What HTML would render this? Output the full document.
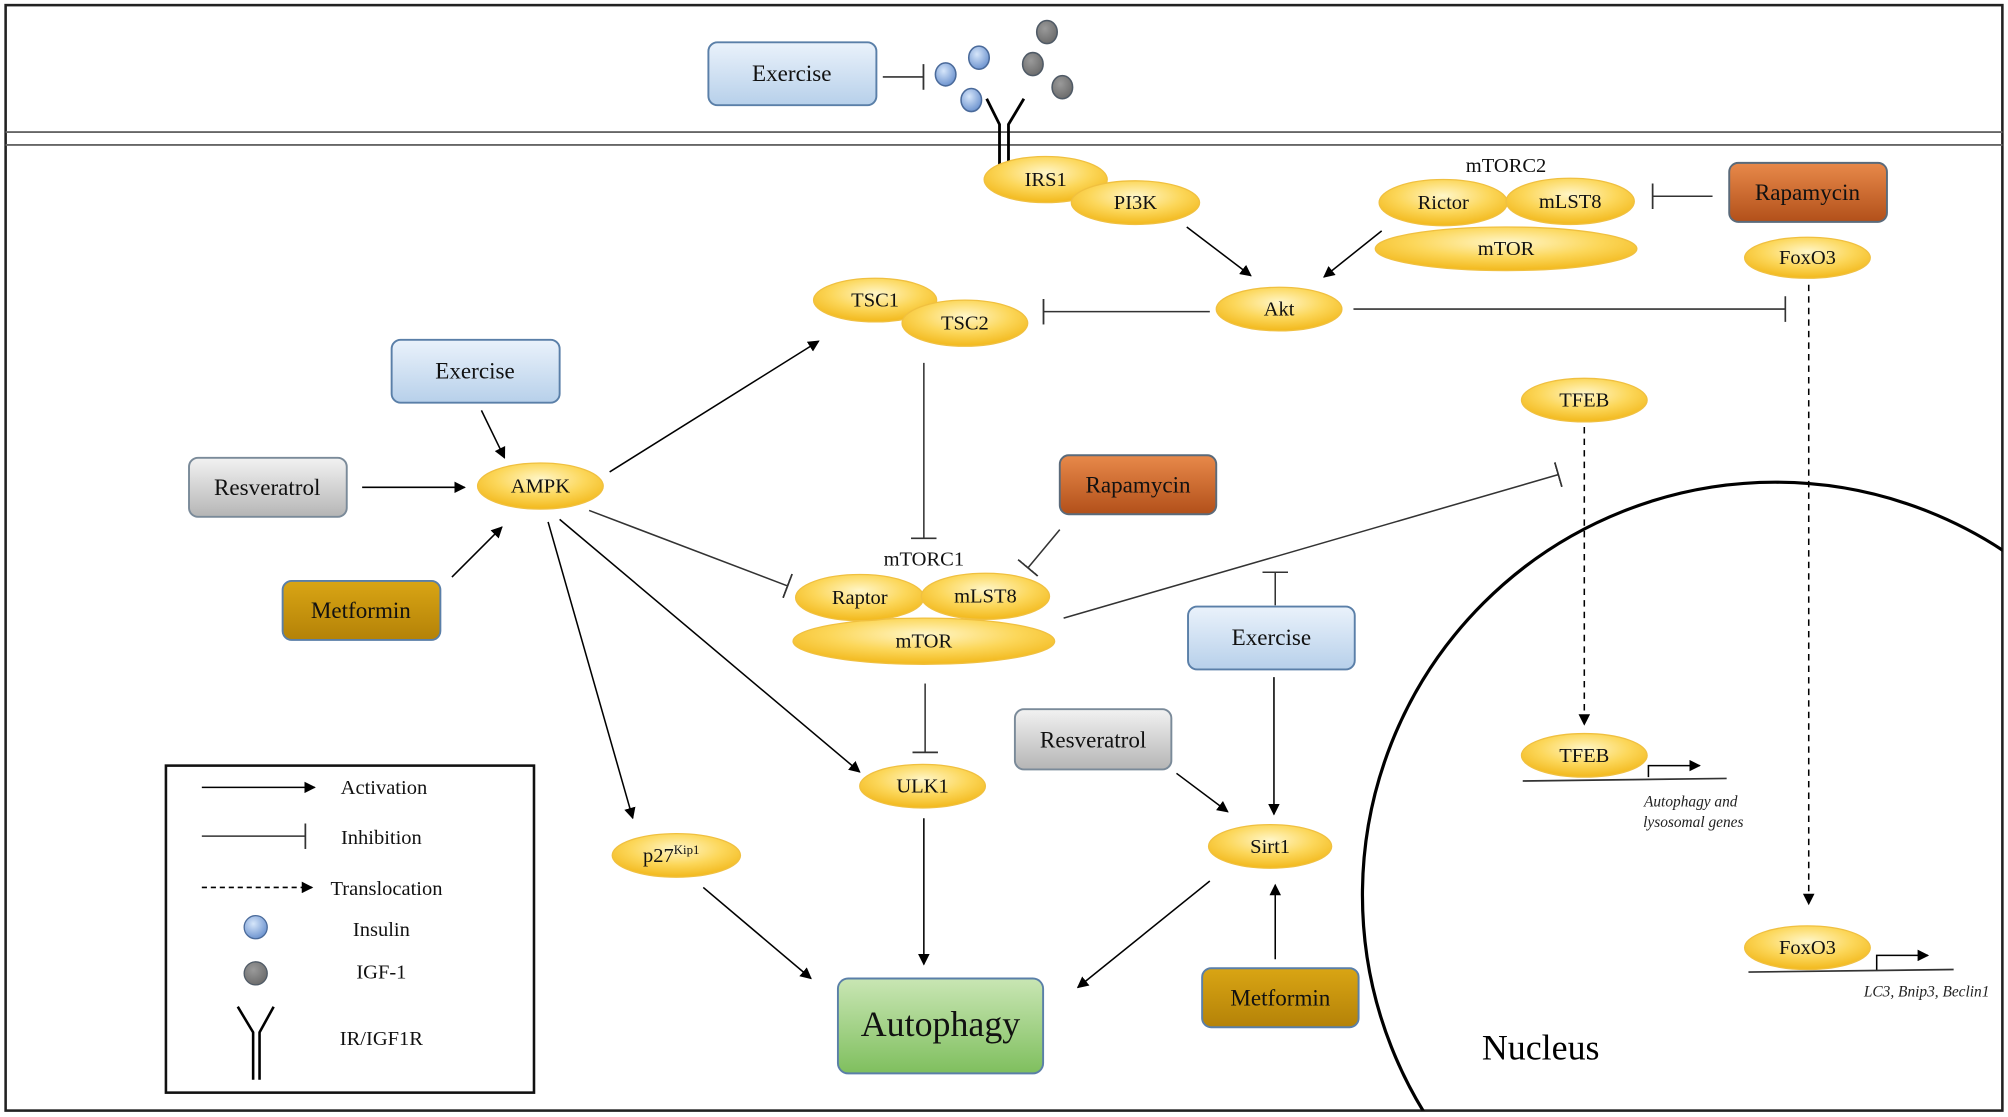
<!DOCTYPE html>
<html><head><meta charset="utf-8"><style>html,body{margin:0;padding:0;background:#fff;width:2008px;height:1117px;overflow:hidden}svg{display:block}</style></head>
<body>
<svg width="2008" height="1117" viewBox="0 0 1565 871" xmlns="http://www.w3.org/2000/svg" font-family="Liberation Serif, serif">
<defs>
<radialGradient id="yel" cx="50%" cy="35%" r="65%"><stop offset="0" stop-color="#fff6c8"/><stop offset="0.55" stop-color="#fcd75a"/><stop offset="1" stop-color="#f2b81c"/></radialGradient>
<linearGradient id="blue" x1="0" y1="0" x2="0" y2="1"><stop offset="0" stop-color="#eaf2fb"/><stop offset="1" stop-color="#b7d0ea"/></linearGradient>
<linearGradient id="gray" x1="0" y1="0" x2="0" y2="1"><stop offset="0" stop-color="#f2f2f2"/><stop offset="1" stop-color="#b5b5b5"/></linearGradient>
<linearGradient id="rap" x1="0" y1="0" x2="0" y2="1"><stop offset="0" stop-color="#e8894a"/><stop offset="1" stop-color="#b2501a"/></linearGradient>
<linearGradient id="met" x1="0" y1="0" x2="0" y2="1"><stop offset="0" stop-color="#d9a514"/><stop offset="1" stop-color="#b48208"/></linearGradient>
<linearGradient id="grn" x1="0" y1="0" x2="0" y2="1"><stop offset="0" stop-color="#c9e6b4"/><stop offset="1" stop-color="#7fbf5e"/></linearGradient>
<radialGradient id="ins" cx="40%" cy="35%" r="65%"><stop offset="0" stop-color="#d6e6fa"/><stop offset="1" stop-color="#6f95d0"/></radialGradient>
<radialGradient id="igf" cx="40%" cy="35%" r="65%"><stop offset="0" stop-color="#9a9a9a"/><stop offset="1" stop-color="#6d6d6d"/></radialGradient>
<marker id="ar" viewBox="0 0 10 10" refX="9" refY="5" markerWidth="9" markerHeight="9" markerUnits="userSpaceOnUse" orient="auto"><path d="M0,0L10,5L0,10z" fill="#000"/></marker>
<marker id="bar" viewBox="0 0 2 20" refX="1" refY="10" markerWidth="2" markerHeight="20" markerUnits="userSpaceOnUse" orient="auto"><rect x="0" y="0" width="1.4" height="20" fill="#333"/></marker>
</defs>
<rect x="4" y="4" width="1557" height="862" fill="#fff" stroke="#222" stroke-width="2"/>
<line x1="4" y1="103" x2="1561" y2="103" stroke="#666" stroke-width="1.5"/>
<line x1="4" y1="113" x2="1561" y2="113" stroke="#666" stroke-width="1.5"/>
<clipPath id="cp"><rect x="4" y="4" width="1557" height="862"/></clipPath>
<circle cx="1384" cy="698" r="322" fill="none" stroke="#000" stroke-width="2.5" clip-path="url(#cp)"/>
<text x="1201" y="826" font-size="28" text-anchor="middle">Nucleus</text>

<g stroke="#333" stroke-width="1.2" fill="none">
<line x1="688" y1="60" x2="720" y2="60" marker-end="url(#bar)"/>
<line x1="1335" y1="153" x2="1288" y2="153" marker-end="url(#bar)"/>
<line x1="1055" y1="241" x2="1392" y2="241" marker-end="url(#bar)"/>
<line x1="943" y1="243" x2="813" y2="243" marker-end="url(#bar)"/>
<line x1="720" y1="283" x2="720" y2="420" marker-end="url(#bar)"/>
<line x1="826" y1="413" x2="801" y2="443" marker-end="url(#bar)"/>
<line x1="459" y1="398" x2="614" y2="457" marker-end="url(#bar)"/>
<line x1="829" y1="482" x2="1215" y2="370" marker-end="url(#bar)"/>
<line x1="994" y1="472" x2="994" y2="446" marker-end="url(#bar)"/>
<line x1="721" y1="533" x2="721" y2="587" marker-end="url(#bar)"/>
</g>
<g stroke="#000" stroke-width="1.2" fill="none" marker-end="url(#ar)">
<line x1="925" y1="177" x2="975" y2="215"/>
<line x1="1077" y1="180" x2="1032" y2="216"/>
<line x1="375" y1="320" x2="393" y2="357"/>
<line x1="282" y1="380" x2="362" y2="380"/>
<line x1="352" y1="450" x2="391" y2="411"/>
<line x1="475" y1="368" x2="638" y2="266"/>
<line x1="436" y1="405" x2="670" y2="602"/>
<line x1="427" y1="407" x2="493" y2="638"/>
<line x1="993" y1="528" x2="993" y2="635"/>
<line x1="917" y1="603" x2="957" y2="633"/>
<line x1="994" y1="748" x2="994" y2="690"/>
<line x1="943" y1="687" x2="840" y2="770"/>
<line x1="720" y1="638" x2="720" y2="752"/>
<line x1="548" y1="692" x2="632" y2="763"/>
<line x1="1235" y1="333" x2="1235" y2="565" stroke-dasharray="5,4"/>
<line x1="1410" y1="222" x2="1410" y2="705" stroke-dasharray="5,4"/>
<polyline points="1285,606 1285,597 1325,597"/>
<polyline points="1463,757 1463,745 1503,745"/>
</g>
<line x1="1187" y1="609" x2="1346" y2="607" stroke="#333" stroke-width="1.3"/>
<line x1="1363" y1="758" x2="1523" y2="756" stroke="#333" stroke-width="1.3"/>

<g stroke="#4a6a9a" stroke-width="1.2">
<ellipse cx="737" cy="58" rx="8" ry="9" fill="url(#ins)"/>
<ellipse cx="763" cy="45" rx="8" ry="9" fill="url(#ins)"/>
<ellipse cx="757" cy="78" rx="8" ry="9" fill="url(#ins)"/>
</g>
<g stroke="#4f5a66" stroke-width="1.2">
<ellipse cx="816" cy="25" rx="8" ry="9" fill="url(#igf)"/>
<ellipse cx="805" cy="50" rx="8" ry="9" fill="url(#igf)"/>
<ellipse cx="828" cy="68" rx="8" ry="9" fill="url(#igf)"/>
</g>
<g stroke="#000" stroke-width="2.2" fill="none">
<polyline points="769,77 779,97 779,130"/>
<polyline points="798,77 786,97 786,130"/>
</g>

<g stroke="#5a7fa8" stroke-width="1.5" font-size="18" text-anchor="middle">
<rect x="552" y="33" width="131" height="49" rx="7" fill="url(#blue)"/>
<rect x="305" y="265" width="131" height="49" rx="7" fill="url(#blue)"/>
<rect x="926" y="473" width="130" height="49" rx="7" fill="url(#blue)"/>
<rect x="147" y="357" width="123" height="46" rx="7" fill="url(#gray)" stroke="#7a8a99"/>
<rect x="791" y="553" width="122" height="47" rx="7" fill="url(#gray)" stroke="#7a8a99"/>
<rect x="1348" y="127" width="123" height="46" rx="7" fill="url(#rap)" stroke="#5a6a7a"/>
<rect x="826" y="355" width="122" height="46" rx="7" fill="url(#rap)" stroke="#5a6a7a"/>
<rect x="220" y="453" width="123" height="46" rx="7" fill="url(#met)" stroke="#5a7fa8"/>
<rect x="937" y="755" width="122" height="46" rx="7" fill="url(#met)" stroke="#5a7fa8"/>
<rect x="653" y="763" width="160" height="74" rx="8" fill="url(#grn)" stroke="#5a7fa8"/>
</g>
<g font-size="18" text-anchor="middle" fill="#111">
<text x="617" y="63">Exercise</text>
<text x="370" y="295">Exercise</text>
<text x="991" y="503">Exercise</text>
<text x="208" y="386">Resveratrol</text>
<text x="852" y="583">Resveratrol</text>
<text x="1409" y="156">Rapamycin</text>
<text x="887" y="384">Rapamycin</text>
<text x="281" y="482">Metformin</text>
<text x="998" y="784">Metformin</text>
<text x="733" y="808" font-size="28">Autophagy</text>
</g>

<g fill="url(#yel)" stroke="#f0c040" stroke-width="1">
<ellipse cx="815" cy="140" rx="48" ry="18"/>
<ellipse cx="885" cy="158" rx="50" ry="17"/>
<ellipse cx="1174" cy="194" rx="102" ry="17"/>
<ellipse cx="1125" cy="158" rx="50" ry="18"/>
<ellipse cx="1224" cy="157" rx="50" ry="18"/>
<ellipse cx="1409" cy="201" rx="49" ry="16"/>
<ellipse cx="997" cy="241" rx="49" ry="17"/>
<ellipse cx="682" cy="234" rx="48" ry="17"/>
<ellipse cx="752" cy="252" rx="49" ry="18"/>
<ellipse cx="421" cy="379" rx="49" ry="18"/>
<ellipse cx="720" cy="500" rx="102" ry="18"/>
<ellipse cx="670" cy="466" rx="50" ry="18"/>
<ellipse cx="768" cy="465" rx="50" ry="18"/>
<ellipse cx="1235" cy="312" rx="49" ry="17"/>
<ellipse cx="719" cy="613" rx="49" ry="17"/>
<ellipse cx="527" cy="667" rx="50" ry="17"/>
<ellipse cx="990" cy="660" rx="48" ry="17"/>
<ellipse cx="1235" cy="589" rx="49" ry="17"/>
<ellipse cx="1409" cy="739" rx="49" ry="17"/>
</g>
<g font-size="16" text-anchor="middle" fill="#111">
<text x="815" y="145">IRS1</text>
<text x="885" y="163">PI3K</text>
<text x="1174" y="134">mTORC2</text>
<text x="1125" y="163">Rictor</text>
<text x="1224" y="162">mLST8</text>
<text x="1174" y="199">mTOR</text>
<text x="1409" y="206">FoxO3</text>
<text x="997" y="246">Akt</text>
<text x="682" y="239">TSC1</text>
<text x="752" y="257">TSC2</text>
<text x="421" y="384">AMPK</text>
<text x="720" y="441">mTORC1</text>
<text x="670" y="471">Raptor</text>
<text x="768" y="470">mLST8</text>
<text x="720" y="505">mTOR</text>
<text x="1235" y="317">TFEB</text>
<text x="719" y="618">ULK1</text>
<text x="523" y="672">p27<tspan font-size="10" dy="-6">Kip1</tspan></text>
<text x="990" y="665">Sirt1</text>
<text x="1235" y="594">TFEB</text>
<text x="1409" y="744">FoxO3</text>
</g>
<g font-size="12" font-style="italic" fill="#222">
<text x="1318" y="629" text-anchor="middle">Autophagy and</text>
<text x="1320" y="645" text-anchor="middle">lysosomal genes</text>
<text x="1453" y="777">LC3, Bnip3, Beclin1</text>
</g>

<rect x="129" y="597" width="287" height="255" fill="none" stroke="#111" stroke-width="2"/>
<line x1="157" y1="614" x2="245" y2="614" stroke="#000" stroke-width="1.2" marker-end="url(#ar)"/>
<line x1="157" y1="652" x2="238" y2="652" stroke="#333" stroke-width="1.2" marker-end="url(#bar)"/>
<line x1="157" y1="692" x2="243" y2="692" stroke="#000" stroke-width="1.2" stroke-dasharray="4,3" marker-end="url(#ar)"/>
<ellipse cx="199" cy="723" rx="9" ry="9" fill="url(#ins)" stroke="#4a6a9a"/>
<ellipse cx="199" cy="759" rx="9" ry="9" fill="url(#igf)" stroke="#4f5a66"/>
<g stroke="#000" stroke-width="2" fill="none">
<polyline points="185,785 197,805 197,842"/>
<polyline points="213,785 202,805 202,842"/>
</g>
<g font-size="16" fill="#111" text-anchor="middle">
<text x="299" y="619">Activation</text>
<text x="297" y="658">Inhibition</text>
<text x="301" y="698">Translocation</text>
<text x="297" y="730">Insulin</text>
<text x="297" y="763">IGF-1</text>
<text x="297" y="815">IR/IGF1R</text>
</g>
</svg>
</body></html>
